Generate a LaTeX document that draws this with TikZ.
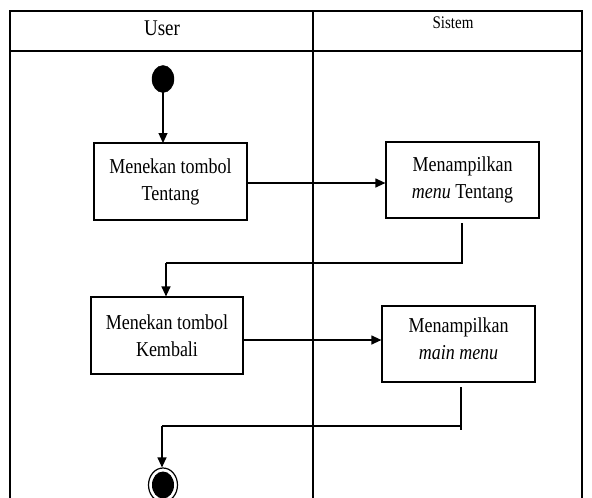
\documentclass[tikz,border=0pt]{standalone}
\usepackage{graphicx}
\usepackage{fontspec}
\setmainfont{Liberation Serif}
\usetikzlibrary{arrows.meta,calc,shapes.geometric}
\newcommand{\vst}[1]{\scalebox{1}[1.18]{#1}}
\begin{document}
\begin{tikzpicture}[x=1pt,y=-1pt,
  frame/.style={line width=1.3pt},
  actbox/.style={draw,line width=1.2pt,minimum width=153pt,minimum height=77pt,align=center,inner sep=0pt,font=\fontsize{18}{27}\selectfont},
  boxtext/.style={align=center,inner sep=0pt,font=\fontsize{18}{27}\selectfont},
  flow/.style={line width=1.2pt,-{Triangle[length=10pt,width=9pt]}},
  plain/.style={line width=1.2pt}]
\useasboundingbox (0,0) rectangle (592,498);
% frame
\draw[frame] (10,498) -- (10,11) -- (582,11) -- (582,498);
\draw[frame] (10,51) -- (582,51);
\draw[frame] (313,11) -- (313,498);
\node (huser) at (162,28) {\fontsize{19}{20}\selectfont\vst{User}};
\node (hsis) at (453,23) {\fontsize{15}{18}\selectfont\vst{Sistem}};
% start
\node[draw,fill=black,ellipse,minimum width=22pt,minimum height=27pt,inner sep=0pt] (start) at (163,79) {};
% boxes
\node[actbox] (b1) at (170.5,181.5) {\vst{Menekan tombol}\\\vst{Tentang}};
\node[actbox,minimum height=76pt] (b2) at (462.5,180) {\vst{Menampilkan}\\\vst{\textit{menu} Tentang}};
\node[actbox,minimum width=152pt] (b3) at (167,335.5) {\vst{Menekan tombol}\\\vst{Kembali}};
\node[draw,line width=1.2pt,minimum width=153pt,minimum height=76pt,inner sep=0pt] (b4) at (458.5,344) {};
\node[boxtext] (b4t) at (458.5,339) {\vst{Menampilkan}\\\vst{\textit{main menu}}};
% end
\node[draw,line width=1.2pt,ellipse,minimum width=29pt,minimum height=34pt,inner sep=0pt] (end) at (163,485) {};
\node[fill=black,ellipse,minimum width=22pt,minimum height=27pt,inner sep=0pt] (endin) at (163,485) {};
% flows
\coordinate (s1) at (163,92);
\draw[flow] (s1) -- (163,143);
\draw[flow] (b1.east |- 0,183) -- (b2.west |- 0,183);
\coordinate (r1) at (462,223);
\coordinate (r1b) at (462,263);
\coordinate (r1c) at (166,263);
\draw[plain] (r1) -- (r1b) -- (r1c);
\draw[flow] (r1c) -- (b3.north -| r1c);
\draw[flow] (b3.east |- 0,340) -- (b4.west |- 0,340);
\coordinate (r2) at (461,387);
\coordinate (r2b) at (461,426);
\coordinate (r2c) at (162,426);
\draw[plain] (r2) -- (461,430);
\draw[plain] (r2b) -- (r2c);
\draw[flow] (r2c) -- (end.north -| r2c);
\end{tikzpicture}
\end{document}
